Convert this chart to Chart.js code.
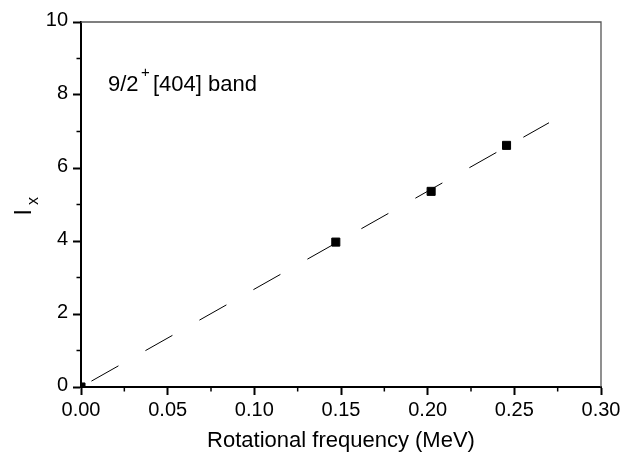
<!DOCTYPE html>
<html>
<head>
<meta charset="utf-8">
<script src="https://cdn.jsdelivr.net/npm/chart.js@4/dist/chart.umd.min.js"></script>
<style>
  html, body { margin: 0; padding: 0; background: #fff; }
  #wrap { width: 639px; height: 452px; position: relative; }
</style>
</head>
<body>
<div id="wrap"><canvas id="c"></canvas></div>
<script>
// ---- data ----
const freq = [0, 0.147, 0.202, 0.2455];      // rotational frequency (MeV)
const ix   = [0, 3.97, 5.36, 6.62];          // I_x
const fitX = [0, 0.27];                       // dashed linear fit
const fitY = [0, 7.24];
const xTickLabels = ['0.00', '0.05', '0.10', '0.15', '0.20', '0.25', '0.30'];
const yTickLabels = ['0', '2', '4', '6', '8', '10'];
const xMinor = [0.025, 0.075, 0.125, 0.175, 0.225, 0.275];
const yMinor = [1, 3, 5, 7, 9];
const xTitle = 'Rotational frequency (MeV)';
const yTitleMain = 'I';
const yTitleSub = 'x';
const noteMain = '9/2';
const noteSup = '+';
const noteRest = '[404] band';

const FONT = "'Liberation Sans', Arial, Helvetica, sans-serif";
Chart.defaults.font.family = FONT;
Chart.defaults.color = '#000';

const decor = {
  id: 'decor',
  afterDraw(chart) {
    const ctx = chart.ctx;
    const xs = chart.scales.x, ys = chart.scales.y;
    const a = chart.chartArea;
    ctx.save();
    // top & right frame
    ctx.strokeStyle = '#555';
    ctx.lineWidth = 1.3;
    ctx.beginPath();
    ctx.moveTo(a.left, a.top); ctx.lineTo(a.right, a.top); ctx.lineTo(a.right, a.bottom);
    ctx.stroke();
    // minor ticks
    ctx.strokeStyle = '#000';
    ctx.lineWidth = 1.5;
    ctx.beginPath();
    xMinor.forEach(v => {
      const px = xs.getPixelForValue(v);
      ctx.moveTo(px, a.bottom); ctx.lineTo(px, a.bottom + 4.5);
    });
    yMinor.forEach(v => {
      const py = ys.getPixelForValue(v);
      ctx.moveTo(a.left, py); ctx.lineTo(a.left - 4.5, py);
    });
    ctx.stroke();
    // x title
    ctx.fillStyle = '#000';
    ctx.textBaseline = 'alphabetic';
    ctx.textAlign = 'center';
    ctx.font = '22px ' + FONT;
    ctx.fillText(xTitle, (a.left + a.right) / 2, 447);
    // y title (rotated) with subscript
    ctx.save();
    ctx.translate(30.7, 215.5);
    ctx.rotate(-Math.PI / 2);
    ctx.textAlign = 'left';
    ctx.font = '23px ' + FONT;
    ctx.fillText(yTitleMain, 0, 0);
    ctx.font = '16px ' + FONT;
    ctx.fillText(yTitleSub, 10.5, 7.6);
    ctx.restore();
    // annotation
    ctx.textAlign = 'left';
    ctx.font = '22px ' + FONT;
    ctx.fillText(noteMain, 108, 91);
    ctx.font = '15px ' + FONT;
    ctx.fillText(noteSup, 141, 77);
    ctx.font = '22px ' + FONT;
    ctx.fillText(noteRest, 153, 91);
    ctx.restore();
  }
};

new Chart(document.getElementById('c'), {
  type: 'scatter',
  data: {
    datasets: [
      {
        type: 'line',
        data: fitX.map((x, i) => ({ x, y: fitY[i] })),
        borderColor: '#000',
        borderWidth: 1,
        borderDash: [31, 31],
        borderDashOffset: 50,
        pointRadius: 0,
        fill: false,
        tension: 0
      },
      {
        data: freq.map((x, i) => ({ x, y: ix[i] })),
        pointStyle: 'rect',
        pointRadius: 5.7,
        pointBorderWidth: 1,
        backgroundColor: '#000',
        borderColor: '#000',
        clip: 0
      }
    ]
  },
  options: {
    responsive: true,
    maintainAspectRatio: false,
    animation: false,
    devicePixelRatio: 1,
    layout: { padding: { top: 22, right: 38, left: 0, bottom: 0 } },
    plugins: { legend: { display: false }, tooltip: { enabled: false } },
    scales: {
      x: {
        type: 'linear',
        min: 0, max: 0.3,
        afterFit(s) { s.height = 65; },
        border: { display: true, color: '#000', width: 2 },
        grid: { drawOnChartArea: false, drawTicks: true, tickLength: 8, tickWidth: 2, tickColor: '#000', color: '#000' },
        ticks: {
          stepSize: 0.05,
          padding: 3,
          font: { size: 20 },
          color: '#000',
          maxRotation: 0,
          autoSkip: false,
          callback: (v, i) => xTickLabels[i]
        }
      },
      y: {
        type: 'linear',
        min: 0, max: 10,
        afterFit(s) { s.width = 81; },
        border: { display: true, color: '#000', width: 2 },
        grid: { drawOnChartArea: false, drawTicks: true, tickLength: 8, tickWidth: 2, tickColor: '#000', color: '#000' },
        ticks: {
          stepSize: 2,
          padding: 5,
          labelOffset: -2,
          font: { size: 20 },
          color: '#000',
          autoSkip: false,
          callback: (v, i) => yTickLabels[i]
        }
      }
    }
  },
  plugins: [decor]
});
</script>
</body>
</html>
